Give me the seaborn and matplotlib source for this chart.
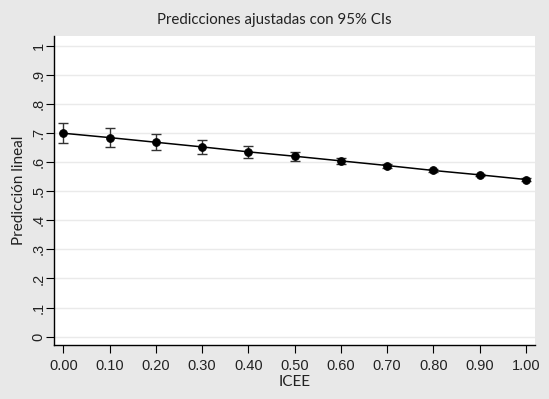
import numpy as np
import matplotlib
matplotlib.use("Agg")
import matplotlib.pyplot as plt
import seaborn as sns

# ICEE values and fitted linear predictions with 95% CIs
icee = [0.0, 0.1, 0.2, 0.3, 0.4, 0.5, 0.6, 0.7, 0.8, 0.9, 1.0]
pred = [0.699, 0.684, 0.668, 0.652, 0.635, 0.620, 0.604, 0.588, 0.571, 0.556, 0.540]
lower = [0.664, 0.651, 0.640, 0.628, 0.614, 0.605, 0.594, 0.581, 0.566, 0.552, 0.535]
upper = [0.735, 0.716, 0.696, 0.676, 0.656, 0.636, 0.614, 0.595, 0.576, 0.560, 0.545]

xticks = [0.0, 0.1, 0.2, 0.3, 0.4, 0.5, 0.6, 0.7, 0.8, 0.9, 1.0]
xlabels = ["0.00", "0.10", "0.20", "0.30", "0.40", "0.50", "0.60", "0.70", "0.80", "0.90", "1.00"]
yticks = [0, 0.1, 0.2, 0.3, 0.4, 0.5, 0.6, 0.7, 0.8, 0.9, 1.0]
ylabels = ["0", ".1", ".2", ".3", ".4", ".5", ".6", ".7", ".8", ".9", "1"]

sns.set_style("white")
plt.rcParams["font.family"] = ["Liberation Sans", "DejaVu Sans"]

fig = plt.figure(figsize=(5.49, 3.99), dpi=100, facecolor="#e8e8e8")
ax = fig.add_axes([54 / 549, 1 - 345 / 399, 481 / 549, 309 / 399])
ax.set_facecolor("white")

pred_a = np.array(pred)
yerr = np.vstack([pred_a - np.array(lower), np.array(upper) - pred_a])
ax.errorbar(icee, pred, yerr=yerr, fmt="none", ecolor="#333333",
            elinewidth=1.0, capsize=3.5, capthick=1.0, zorder=2)
sns.lineplot(x=icee, y=pred, ax=ax, color="black", linewidth=1.1,
             marker="o", markersize=5.5, markeredgecolor="black", zorder=3)

ax.set_xlim(-0.020, 1.0195)
ax.set_ylim(-0.0285, 1.033)
ax.set_xticks(xticks)
ax.set_xticklabels(xlabels, fontsize=10.5)
ax.set_yticks(yticks)
ax.set_yticklabels(ylabels, fontsize=10.5, rotation=90, va="center")
ax.tick_params(axis="both", direction="out", length=6, width=0.8, color="black",
               colors="#222222", left=True, bottom=True, pad=4)
ax.tick_params(axis="y", pad=0)
ax.yaxis.grid(True, color="#eaeaea", linewidth=1.0)
ax.xaxis.grid(False)
for side in ["top", "right"]:
    ax.spines[side].set_visible(False)
for side in ["left", "bottom"]:
    ax.spines[side].set_color("black")
    ax.spines[side].set_linewidth(1.0)

ax.set_xlabel("ICEE", fontsize=11, family="Lato", color="#222222", va="center")
ax.set_ylabel("Predicción lineal", fontsize=11, family="Lato", color="#222222", va="center")
ax.xaxis.set_label_coords(0.5, -(382 - 345) / 309)
ax.yaxis.set_label_coords(-(54 - 19) / 481, 0.5)
fig.text(274 / 549, 1 - 20 / 399, "Predicciones ajustadas con 95% CIs", fontsize=10.8,
         family="Lato", color="#222222", ha="center", va="center")

fig.savefig("out.png", dpi=100, facecolor=fig.get_facecolor())
